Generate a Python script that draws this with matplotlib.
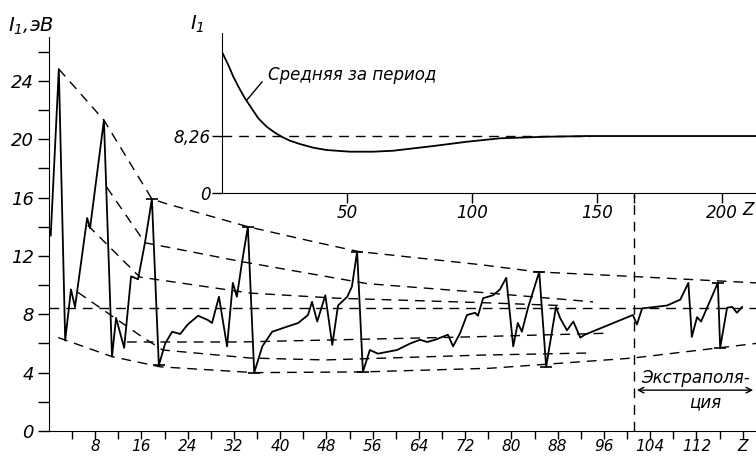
import matplotlib.pyplot as plt

plt.rcParams['font.family'] = ['DejaVu Sans']
plt.rcParams['font.style'] = 'italic'
plt.rcParams['mathtext.fontset'] = 'dejavusans'

# first ionisation energy as drawn (Z, eV)
z_main = [0.3, 1.7, 2.8, 3.8, 4.5, 6.6, 7.1, 9.5, 10.9, 11.6, 13.0, 14.2, 15.4, 16.6,
          17.8, 19.0, 20.1, 21.3, 22.7, 24.0, 25.8, 27.5, 28.2, 29.4, 30.8, 31.8, 32.5,
          33.4, 34.4, 35.5, 36.9, 38.6, 40.8, 43.1, 44.8, 45.5, 46.4, 47.8, 49.0, 50.0,
          51.6, 52.4, 53.3, 54.3, 55.5, 56.9, 60.2, 62.5, 64.2, 65.4, 66.8, 69.0, 69.9,
          71.1, 72.3, 73.7, 74.2, 75.1, 76.8, 78.0, 79.1, 80.3, 81.1, 81.8, 82.9, 84.8,
          86.0, 87.7, 88.4, 89.6, 90.7, 91.9, 92.7, 101.0, 101.7, 102.6, 106.9, 109.2,
          110.6, 111.2, 112.1, 112.8, 115.7, 116.1, 117.3, 118.2, 119.0, 119.9]
i_main = [13.4, 24.8, 6.2, 9.7, 8.5, 14.6, 13.9, 21.3, 5.1, 7.75, 5.7, 10.6, 10.4, 12.9,
          15.9, 4.5, 6.0, 6.8, 6.65, 7.3, 7.9, 7.6, 7.4, 9.2, 5.8, 10.15, 9.2,
          11.6, 14.0, 4.0, 5.8, 6.8, 7.1, 7.4, 7.95, 8.85, 7.5, 9.3, 5.9, 8.6,
          9.2, 9.9, 12.3, 4.05, 5.55, 5.3, 5.55, 6.0, 6.25, 6.1, 6.25, 6.6, 5.8,
          6.7, 7.95, 8.1, 7.9, 9.1, 9.3, 9.7, 10.5, 5.8, 7.4, 6.8, 8.5, 10.9,
          4.4, 8.5, 7.75, 6.9, 7.5, 6.4, 6.6, 7.95, 7.3, 8.4, 8.6, 9.0,
          10.15, 6.45, 7.8, 7.5, 10.15, 5.7, 8.45, 8.5, 8.1, 8.5]

# dashed envelope lines
z_top = [1.7, 9.5, 17.8, 20.1, 34.4, 46.0, 53.5, 74.6, 84.6, 100.5, 122.3]
i_top = [24.8, 21.3, 15.9, 15.6, 14.0, 12.95, 12.3, 11.4, 10.9, 10.6, 10.15]
z_hal = [10.0, 16.6, 33.4, 55.0, 74.6, 94.1]
i_hal = [16.7, 12.9, 11.6, 10.1, 9.5, 8.85]
z_g15 = [6.7, 15.7, 34.8, 49.8, 74.6, 88.4]
i_g15 = [14.1, 10.55, 9.45, 9.1, 8.8, 8.6]
z_g2 = [5.0, 16.1, 19.7, 34.8, 47.8, 74.6, 94.1]
i_g2 = [9.5, 6.45, 5.55, 5.0, 4.87, 5.2, 5.35]
z_mid = [13.5, 33.0, 72.8, 96.5]
i_mid = [6.1, 6.1, 6.45, 6.7]
z_alk = [1.6, 10.9, 19.2, 35.5, 54.3, 76.3, 101.0, 122.3]
i_alk = [6.4, 5.1, 4.4, 4.0, 4.05, 4.3, 5.0, 6.0]
i_mean_main = 8.4
z_extrap = 101.2

# small caps at the extremes
z_caps = [17.8, 19.0, 34.4, 35.5, 53.3, 54.3, 84.8, 86.0, 115.7, 116.1]
i_caps = [15.9, 4.5, 14.0, 4.0, 12.3, 4.05, 10.9, 4.4, 10.15, 5.7]

# inset: mean over the period
z_avg = [0.27, 2.53, 4.53, 6.93, 9.2, 11.87, 14.53, 17.87, 21.2, 23.87, 27.2, 31.2,
         36.5, 41.9, 51.2, 60.5, 68.5, 84.5, 97.9, 111.2, 129.9, 145.9, 213.6]
i_avg = [20.24, 18.55, 16.86, 15.17, 13.72, 12.27, 10.82, 9.61, 8.74, 8.16, 7.58, 7.1,
         6.57, 6.23, 5.99, 5.99, 6.13, 6.81, 7.43, 7.93, 8.16, 8.26, 8.26]
mean_val = 8.26

fig = plt.figure(figsize=(7.56, 4.58), dpi=100)
ax = fig.add_axes([49 / 756, 27 / 458, 707 / 756, 394 / 458])
ax.set_xlim(0, 122.3)
ax.set_ylim(0, 27.0)
for s in ['top', 'right']:
    ax.spines[s].set_visible(False)

dash = dict(color='black', lw=1.0, ls=(0, (7, 5)))
ax.plot(z_top, i_top, **dash)
ax.plot(z_hal, i_hal, **dash)
ax.plot(z_g15, i_g15, **dash)
ax.plot(z_g2, i_g2, **dash)
ax.plot(z_mid, i_mid, **dash)
ax.plot(z_alk, i_alk, **dash)
ax.plot([0, 122.3], [i_mean_main, i_mean_main], **dash)
ax.plot([z_extrap, z_extrap], [0, 16.2], **dash)

ax.plot(z_main, i_main, color='black', lw=1.3)
ax.plot(z_caps, i_caps, ls='none', marker='_', ms=9, mew=1.2, color='black')

xt = list(range(4, 121, 4))
ax.set_xticks(xt)
ax.set_xticklabels(['Z' if t == 120 else (str(t) if t % 8 == 0 else '') for t in xt])
yt = list(range(0, 27, 2))
ax.set_yticks(yt)
ax.set_yticklabels([str(t) if t % 4 == 0 else '' for t in yt])
ax.tick_params(direction='out', length=8, width=1.0, labelsize=13, pad=3)
ax.tick_params(axis='x', length=6, labelsize=11, pad=0)

# extrapolation arrow
ax.annotate('', xy=(z_extrap, 2.8), xytext=(122.3, 2.8),
            arrowprops=dict(arrowstyle='<->', color='black', lw=1.0))
ax.text(111.8, 3.6, 'Экстраполя-', ha='center', va='center', fontsize=12)
ax.text(113.5, 2.0, 'ция', ha='center', va='center', fontsize=12)

fig.text(8 / 756, 1 - 26 / 458, '$I_1$,эВ', fontsize=14, ha='left', va='center')

# inset
ins = fig.add_axes([222 / 756, 265 / 458, 534 / 756, 160 / 458])
ins.patch.set_alpha(0)
ins.set_xlim(0, 213.6)
ins.set_ylim(0, 23.2)
for s in ['top', 'right']:
    ins.spines[s].set_visible(False)
ins.plot([0, 147], [mean_val, mean_val], **dash)
ins.plot(z_avg, i_avg, color='black', lw=1.3)
ins.set_xticks([50, 100, 150, 164.8, 200])
ins.set_xticklabels(['50', '100', '150', '', '200'])
ins.set_yticks([0, mean_val])
ins.set_yticklabels(['0', '8,26'])
ins.tick_params(direction='out', length=7, width=1.0, labelsize=12, pad=1)
ins.text(210.5, -1.2, 'Z', ha='center', va='top', fontsize=12)
ins.plot([10, 16], [13.5, 16.1], color='black', lw=1.0)
ins.text(18.4, 17.1, 'Средняя за период', ha='left', va='center', fontsize=12)
fig.text(197 / 756, 1 - 24 / 458, '$I_1$', fontsize=14, ha='center', va='center')

fig.savefig('out.png', dpi=100)
